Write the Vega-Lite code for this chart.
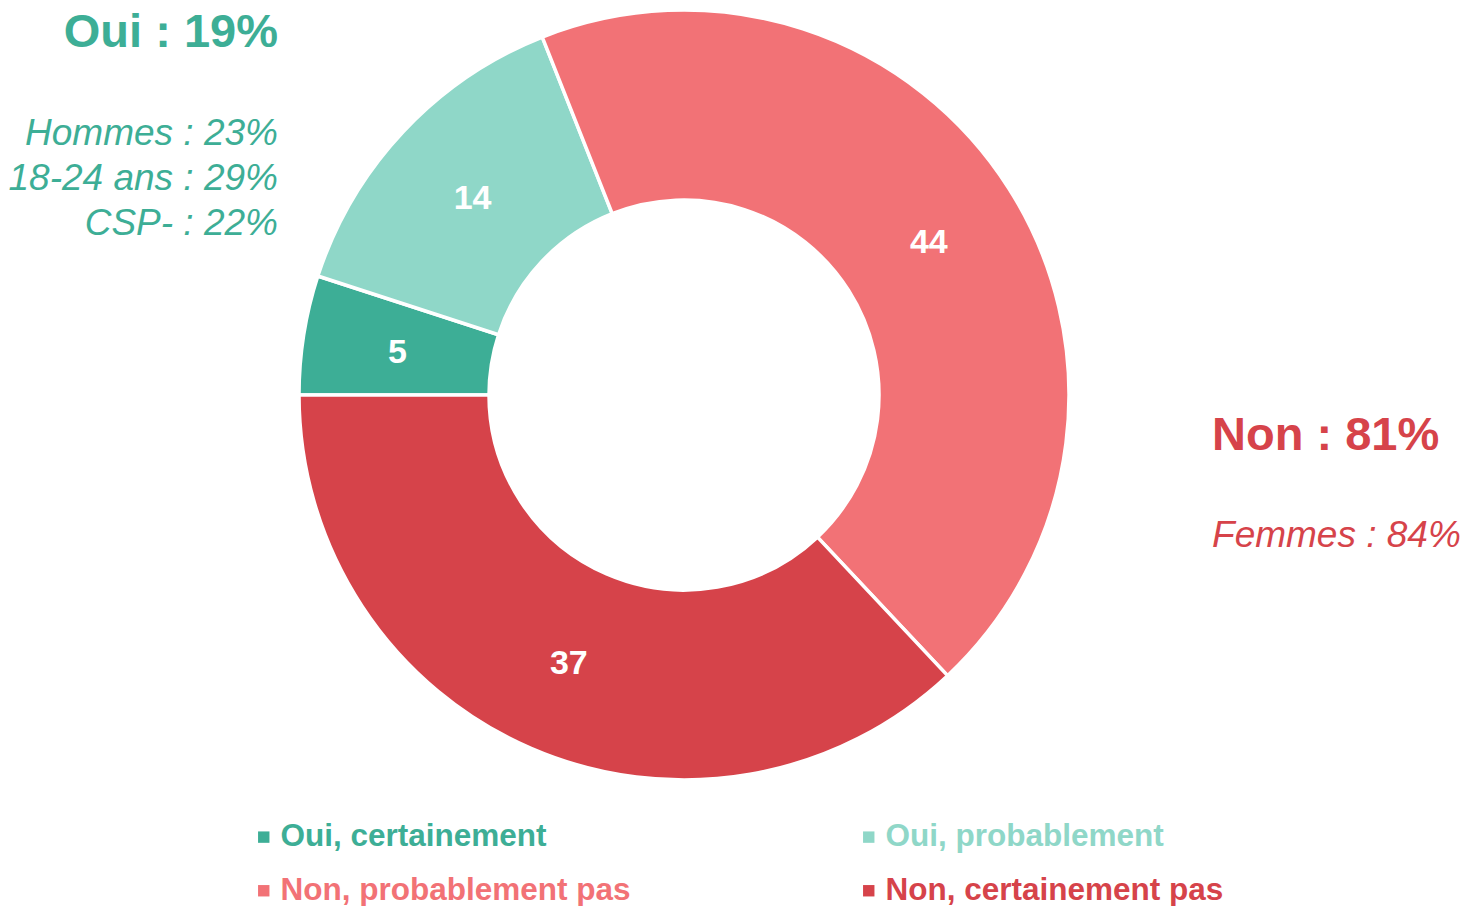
{
  "$schema": "https://vega.github.io/schema/vega-lite/v6.json",
  "width": 1368,
  "height": 790,
  "padding": 0,
  "background": "white",
  "config": {"view": {"stroke": null}, "font": "Liberation Sans"},
  "layer": [
    {
      "data": {"values": [
        {"categorie": "Oui, certainement", "valeur": 5, "ordre": 1},
        {"categorie": "Oui, probablement", "valeur": 14, "ordre": 2},
        {"categorie": "Non, probablement pas", "valeur": 44, "ordre": 3},
        {"categorie": "Non, certainement pas", "valeur": 37, "ordre": 4}
      ]},
      "layer": [
        {
          "mark": {"type": "arc", "outerRadius": 385, "innerRadius": 195, "stroke": "white", "strokeWidth": 3.5},
          "encoding": {
            "theta": {"field": "valeur", "type": "quantitative", "stack": true, "scale": {"range": [4.712389, 10.995574]}},
            "order": {"field": "ordre", "type": "quantitative"},
            "color": {
              "field": "categorie", "type": "nominal",
              "scale": {
                "domain": ["Oui, certainement", "Oui, probablement", "Non, probablement pas", "Non, certainement pas"],
                "range": ["#3DAE96", "#8FD7C8", "#F27276", "#D6434A"]
              },
              "legend": {
                "orient": "none", "legendX": 248, "legendY": 821, "columns": 2, "direction": "horizontal", "title": null,
                "symbolType": "square", "symbolSize": 130, "symbolStrokeWidth": 0, "symbolOpacity": 1,
                "labelFont": "Liberation Sans", "labelFontSize": 31.5, "labelFontWeight": "bold",
                "labelColor": {"expr": "scale('color', datum.value)"},
                "labelOffset": 1, "columnPadding": 222, "rowPadding": 21, "padding": 0, "labelLimit": 0
              }
            }
          }
        },
        {
          "mark": {"type": "text", "radius": 290, "dy": 3, "fontSize": 34, "fontWeight": "bold", "fill": "white", "font": "Liberation Sans"},
          "encoding": {
            "theta": {"field": "valeur", "type": "quantitative", "stack": true},
            "order": {"field": "ordre", "type": "quantitative"},
            "detail": {"field": "categorie", "type": "nominal"},
            "text": {"field": "valeur", "type": "quantitative"}
          }
        }
      ]
    },
    {
      "data": {"values": [{"texte": "Oui : 19%"}]},
      "mark": {"type": "text", "align": "right", "baseline": "alphabetic", "fontSize": 47, "fontWeight": "bold", "color": "#3DAE96"},
      "encoding": {
        "text": {"field": "texte", "type": "nominal"},
        "x": {"datum": 0.2032, "type": "quantitative", "scale": {"domain": [0, 1], "nice": false, "zero": false}, "axis": null},
        "y": {"datum": 0.0595, "type": "quantitative", "scale": {"domain": [0, 1], "nice": false, "zero": false, "reverse": true}, "axis": null}
      }
    },
    {
      "data": {"values": [{"texte": "Hommes : 23%\n18-24 ans : 29%\nCSP- : 22%"}]},
      "mark": {"type": "text", "align": "right", "baseline": "alphabetic", "fontSize": 37, "fontStyle": "italic", "lineBreak": "\n", "lineHeight": 45, "color": "#3DAE96"},
      "encoding": {
        "text": {"field": "texte", "type": "nominal"},
        "x": {"datum": 0.2032, "type": "quantitative"},
        "y": {"datum": 0.1835, "type": "quantitative"}
      }
    },
    {
      "data": {"values": [{"texte": "Non : 81%"}]},
      "mark": {"type": "text", "align": "left", "baseline": "alphabetic", "fontSize": 47, "fontWeight": "bold", "color": "#D6434A"},
      "encoding": {
        "text": {"field": "texte", "type": "nominal"},
        "x": {"datum": 0.886, "type": "quantitative"},
        "y": {"datum": 0.5696, "type": "quantitative"}
      }
    },
    {
      "data": {"values": [{"texte": "Femmes : 84%"}]},
      "mark": {"type": "text", "align": "left", "baseline": "alphabetic", "fontSize": 37, "fontStyle": "italic", "color": "#D6434A"},
      "encoding": {
        "text": {"field": "texte", "type": "nominal"},
        "x": {"datum": 0.886, "type": "quantitative"},
        "y": {"datum": 0.6924, "type": "quantitative"}
      }
    }
  ]
}
